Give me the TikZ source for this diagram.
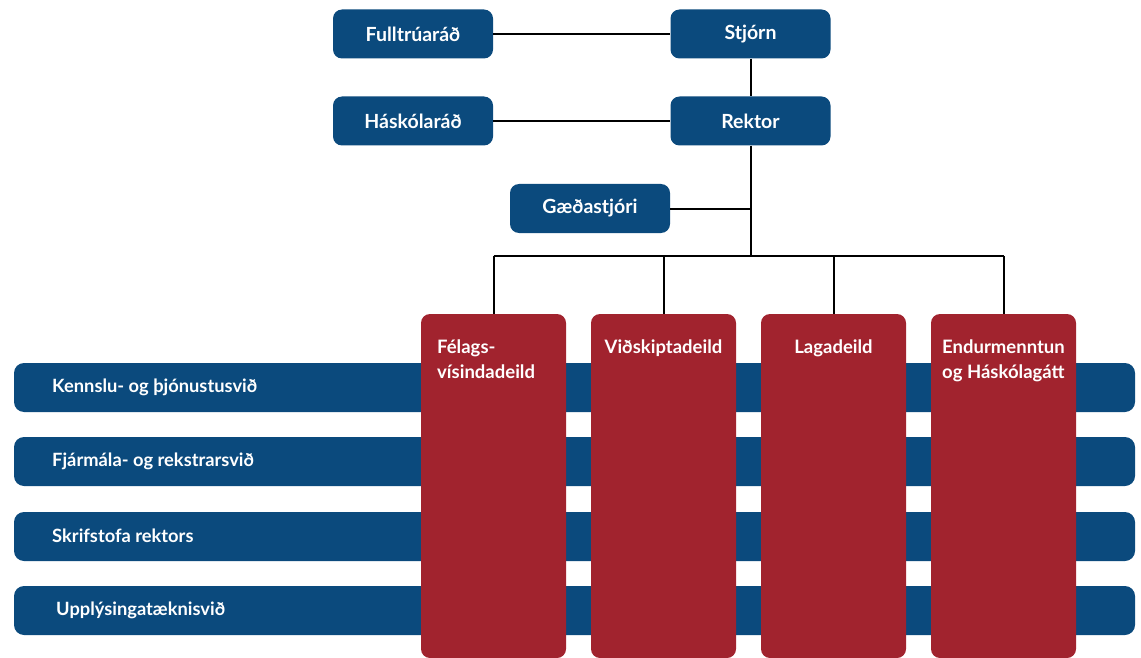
\documentclass[tikz,border=0pt]{standalone}
\usepackage{fontspec}
\setmainfont{Lato}
\definecolor{orgblue}{RGB}{11,74,125}
\definecolor{orgred}{RGB}{161,35,46}
\begin{document}
\begin{tikzpicture}[x=1pt,y=-1pt,
  topbox/.style={fill=orgblue,rounded corners=9pt,minimum width=160pt,minimum height=49pt,inner sep=0pt,text=white,font=\fontsize{19.5}{21}\selectfont\bfseries},
  barbox/.style={fill=orgblue,rounded corners=10pt,minimum width=1121pt,minimum height=49pt,inner sep=0pt},
  bartext/.style={anchor=west,text=white,inner sep=0pt,font=\fontsize{18.3}{20}\selectfont\bfseries},
  deptbox/.style={fill=orgred,rounded corners=9pt,minimum width=145pt,minimum height=344pt,inner sep=0pt},
  depttext/.style={anchor=north west,text=white,inner sep=0pt,align=left,font=\fontsize{18.5}{25}\selectfont\bfseries},
  link/.style={draw=black,line width=2pt}]
\useasboundingbox (0,0) rectangle (1141,658);
% top boxes
\node[topbox] (fulltr) at (413,34) {Fulltrúaráð};
\node[topbox] (stjorn) at (750.5,34) {Stjórn};
\node[topbox] (haskr) at (413,121) {Háskólaráð};
\node[topbox] (rektor) at (750.5,121) {Rektor};
\node[topbox] (gaeda) at (590,208.5) {Gæðastjóri};
% bars
\node[barbox] (bar1) at (574.5,387.5) {};
\node[barbox] (bar2) at (574.5,461.5) {};
\node[barbox] (bar3) at (574.5,536.5) {};
\node[barbox] (bar4) at (574.5,610.5) {};
\node[bartext] (t1) at (52,387) {Kennslu- og þjónustusvið};
\node[bartext] (t2) at (52,461) {Fjármála- og rekstrarsvið};
\node[bartext] (t3) at (52,536) {Skrifstofa rektors};
\node[bartext] (t4) at (56,610) {Upplýsingatæknisvið};
% departments
\node[deptbox] (d1) at (493.5,486) {};
\node[deptbox] (d2) at (663.5,486) {};
\node[deptbox] (d3) at (833.5,486) {};
\node[deptbox] (d4) at (1003.5,486) {};
\node[depttext] (l1) at (437,340) {Félags-\\vísindadeild};
\node[depttext,anchor=north] (l2) at (663.5,340) {Viðskiptadeild};
\node[depttext,anchor=north] (l3) at (833.5,340) {Lagadeild};
\node[depttext] (l4) at (942,340) {Endurmenntun\\og Háskólagátt};
% connectors
\coordinate (bus) at (rektor.south |- 0,256);
\coordinate (b1) at (d1.north |- 0,256);
\coordinate (b4) at (d4.north |- 0,256);
\draw[link] (fulltr) -- (stjorn);
\draw[link] (haskr) -- (rektor);
\draw[link] (stjorn) -- (rektor);
\draw[link] (rektor.south) -- (bus);
\draw[link] (gaeda.east) -- (gaeda.east -| rektor.south);
\draw[link] (b1) -- (b4);
\foreach \d in {d1,d2,d3,d4} \draw[link] (\d.north |- 0,256) -- (\d.north);
\end{tikzpicture}
\end{document}
